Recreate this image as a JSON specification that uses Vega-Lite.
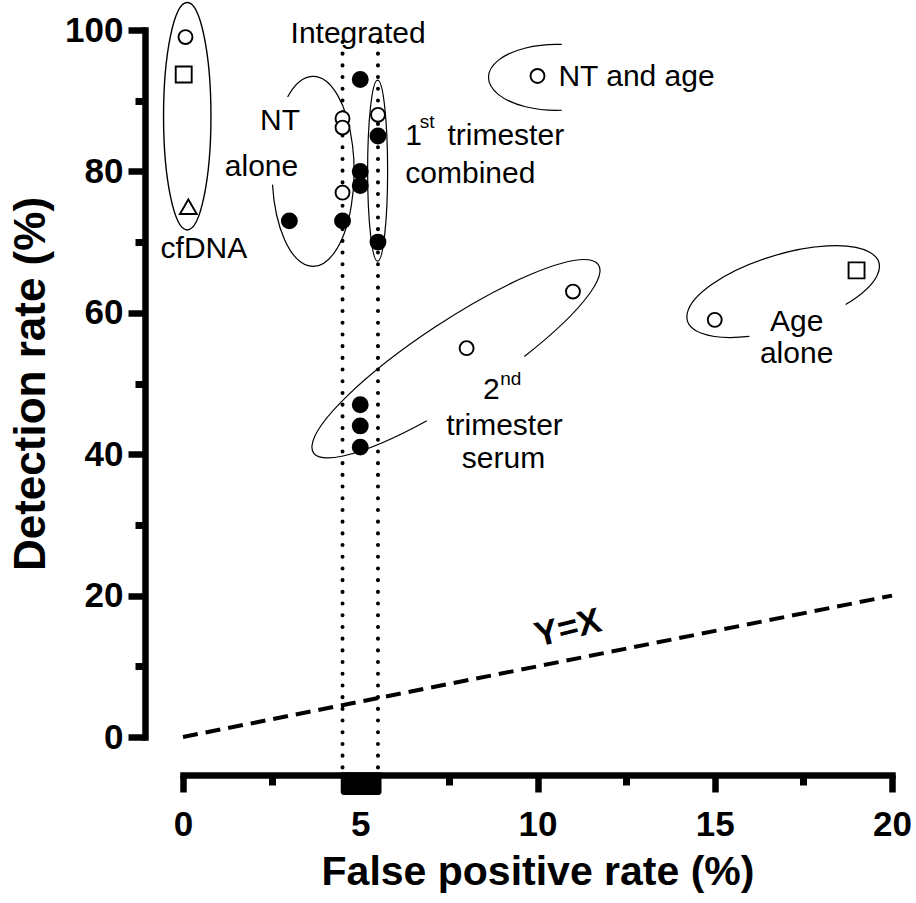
{
  "$schema": "https://vega.github.io/schema/vega-lite/v6.json",
  "width": 709,
  "height": 707,
  "autosize": {"type": "none"},
  "padding": {"left": 183, "top": 30, "right": 24, "bottom": 166},
  "background": "white",
  "config": {
    "view": {"stroke": null},
    "font": "Liberation Sans",
    "axis": {"grid": false, "domainColor": "black", "tickColor": "black", "labelColor": "black", "titleColor": "black"}
  },
  "datasets": {
    "points": [
      {"x": 0.07, "y": 99, "marker": "open circle"},
      {"x": 0.02, "y": 93.7, "marker": "open square"},
      {"x": 0.15, "y": 75, "marker": "open triangle"},
      {"x": 5.0, "y": 93, "marker": "filled circle"},
      {"x": 4.5, "y": 87.5, "marker": "open circle"},
      {"x": 4.5, "y": 86.2, "marker": "open circle"},
      {"x": 4.5, "y": 77, "marker": "open circle"},
      {"x": 4.5, "y": 73, "marker": "filled circle"},
      {"x": 3.0, "y": 73, "marker": "filled circle"},
      {"x": 5.0, "y": 80, "marker": "filled circle"},
      {"x": 5.0, "y": 78, "marker": "filled circle"},
      {"x": 5.5, "y": 88, "marker": "open circle"},
      {"x": 5.5, "y": 85, "marker": "filled circle"},
      {"x": 5.5, "y": 70, "marker": "filled circle"},
      {"x": 10, "y": 93.5, "marker": "open circle"},
      {"x": 5.0, "y": 47, "marker": "filled circle"},
      {"x": 5.0, "y": 44, "marker": "filled circle"},
      {"x": 5.0, "y": 41, "marker": "filled circle"},
      {"x": 8, "y": 55, "marker": "open circle"},
      {"x": 11, "y": 63, "marker": "open circle"},
      {"x": 15, "y": 59, "marker": "open circle"},
      {"x": 19, "y": 66, "marker": "open square"}
    ],
    "identity": [{"x": 0, "y": 0}, {"x": 20, "y": 20}],
    "bounds": [{"x": 4.5, "y": -4.3, "y2": 99.5}, {"x": 5.5, "y": -4.3, "y2": 99.5}],
    "band": [{"x": 4.45, "x2": 5.6, "y": -5.0, "y2": -8.2}],
    "labelsCenter": [
      {"x": 4.94, "y": 98.2, "text": "Integrated"},
      {"x": 0.59, "y": 67.7, "text": "cfDNA"},
      {"x": 9.07, "y": 42.7, "text": "trimester"},
      {"x": 9.04, "y": 38.0, "text": "serum"},
      {"x": 17.31, "y": 57.4, "text": "Age"},
      {"x": 17.31, "y": 52.9, "text": "alone"}
    ],
    "labelsLeft": [
      {"x": 6.27, "y": 83.8, "text": "1"},
      {"x": 7.46, "y": 83.8, "text": "trimester"},
      {"x": 6.27, "y": 78.4, "text": "combined"},
      {"x": 10.59, "y": 92.1, "text": "NT and age"},
      {"x": 8.46, "y": 47.8, "text": "2"}
    ],
    "labelsRight": [
      {"x": 3.3, "y": 85.9, "text": "NT"},
      {"x": 3.25, "y": 79.3, "text": "alone"}
    ],
    "labelsSup": [
      {"x": 6.68, "y": 86.2, "text": "st"},
      {"x": 8.95, "y": 49.8, "text": "nd"}
    ],
    "labelsLine": [{"x": 10.86, "y": 15.4, "text": "Y=X"}],
    "cfdnaGroup": [{"x": 0.12, "y": 87.8}],
    "ntAloneGroup": [{"x": 3.67, "y": 80.0}],
    "firstTriGroup": [{"x": 5.49, "y": 80.1}],
    "ntAgeGroup": [{"x": 10.86, "y": 93.3}],
    "secondTriGroup": [{"x": 7.70, "y": 53.5}],
    "ageGroup": [{"x": 16.93, "y": 63.0}]
  },
  "resolve": {"axis": {"x": "independent", "y": "independent"}},
  "layer": [
    {
      "data": {"name": "cfdnaGroup"},
      "mark": {"type": "point", "shape": "M0 -1.137 A0.237 1.137 0 1 1 0 1.137 A0.237 1.137 0 1 1 0 -1.137", "size": 40000, "filled": false, "stroke": "black", "strokeWidth": 1.4, "opacity": 1},
      "encoding": {
        "x": {"field": "x", "type": "quantitative", "scale": {"domain": [0, 20], "nice": false}, "axis": null},
        "y": {"field": "y", "type": "quantitative", "scale": {"domain": [0, 100], "nice": false}, "axis": null}
      }
    },
    {
      "data": {"name": "ntAloneGroup"},
      "mark": {"type": "point", "shape": "M-0.255 -0.744 A0.41 0.95 0 1 1 -0.406 0.132", "size": 40000, "filled": false, "stroke": "black", "strokeWidth": 1.2, "opacity": 1},
      "encoding": {
        "x": {"field": "x", "type": "quantitative", "scale": {"domain": [0, 20], "nice": false}, "axis": null},
        "y": {"field": "y", "type": "quantitative", "scale": {"domain": [0, 100], "nice": false}, "axis": null}
      }
    },
    {
      "data": {"name": "firstTriGroup"},
      "mark": {"type": "point", "shape": "M0 -0.905 A0.1 0.905 0 1 1 0 0.905 A0.1 0.905 0 1 1 0 -0.905", "size": 40000, "filled": false, "stroke": "black", "strokeWidth": 1.2, "opacity": 1},
      "encoding": {
        "x": {"field": "x", "type": "quantitative", "scale": {"domain": [0, 20], "nice": false}, "axis": null},
        "y": {"field": "y", "type": "quantitative", "scale": {"domain": [0, 100], "nice": false}, "axis": null}
      }
    },
    {
      "data": {"name": "ntAgeGroup"},
      "mark": {"type": "point", "shape": "M-0.062 -0.329 A0.68 0.33 0 1 0 -0.062 0.329", "size": 40000, "filled": false, "stroke": "black", "strokeWidth": 1.2, "opacity": 1},
      "encoding": {
        "x": {"field": "x", "type": "quantitative", "scale": {"domain": [0, 20], "nice": false}, "axis": null},
        "y": {"field": "y", "type": "quantitative", "scale": {"domain": [0, 100], "nice": false}, "axis": null}
      }
    },
    {
      "data": {"name": "secondTriGroup"},
      "mark": {"type": "point", "shape": "M-0.584 0.357 A1.707 0.38 0 1 1 0.584 0.357", "size": 40000, "angle": 326.6, "filled": false, "stroke": "black", "strokeWidth": 1.2, "opacity": 1},
      "encoding": {
        "x": {"field": "x", "type": "quantitative", "scale": {"domain": [0, 20], "nice": false}, "axis": null},
        "y": {"field": "y", "type": "quantitative", "scale": {"domain": [0, 100], "nice": false}, "axis": null}
      }
    },
    {
      "data": {"name": "ageGroup"},
      "mark": {"type": "point", "shape": "M-0.454 0.330 A1 0.37 0 1 1 0.559 0.307", "size": 40000, "angle": 343, "filled": false, "stroke": "black", "strokeWidth": 1.2, "opacity": 1},
      "encoding": {
        "x": {"field": "x", "type": "quantitative", "scale": {"domain": [0, 20], "nice": false}, "axis": null},
        "y": {"field": "y", "type": "quantitative", "scale": {"domain": [0, 100], "nice": false}, "axis": null}
      }
    },
    {
      "data": {"name": "bounds"},
      "mark": {"type": "rule", "color": "black", "strokeWidth": 4, "strokeDash": [0.1, 11.6], "strokeCap": "round"},
      "encoding": {
        "x": {"field": "x", "type": "quantitative", "scale": {"domain": [0, 20], "nice": false}, "axis": null},
        "y": {"field": "y", "type": "quantitative", "scale": {"domain": [0, 100], "nice": false}, "axis": null},
        "y2": {"field": "y2"}
      }
    },
    {
      "data": {"name": "identity"},
      "mark": {"type": "line", "color": "black", "strokeWidth": 4, "strokeDash": [15, 8], "strokeCap": "butt"},
      "encoding": {
        "x": {"field": "x", "type": "quantitative", "scale": {"domain": [0, 20], "nice": false},
              "axis": {"orient": "bottom", "values": [2.5, 7.5, 12.5, 17.5], "labels": false, "domain": false, "title": null, "offset": 38, "tickSize": 10, "tickWidth": 7, "tickCap": "butt"}},
        "y": {"field": "y", "type": "quantitative", "scale": {"domain": [0, 100], "nice": false},
              "axis": {"orient": "left", "values": [10, 30, 50, 70, 90], "labels": false, "domain": false, "title": null, "offset": 38, "tickSize": 10, "tickWidth": 7, "tickCap": "butt"}}
      }
    },
    {
      "data": {"name": "band"},
      "mark": {"type": "rect", "color": "black", "cornerRadiusBottomLeft": 3, "cornerRadiusBottomRight": 3},
      "encoding": {
        "x": {"field": "x", "type": "quantitative", "scale": {"domain": [0, 20], "nice": false}, "axis": null},
        "x2": {"field": "x2"},
        "y": {"field": "y", "type": "quantitative", "scale": {"domain": [0, 100], "nice": false}, "axis": null},
        "y2": {"field": "y2"}
      }
    },
    {
      "data": {"name": "points"},
      "mark": {"type": "point", "stroke": "black", "strokeWidth": 1.9, "opacity": 1, "filled": true},
      "encoding": {
        "x": {"field": "x", "type": "quantitative", "scale": {"domain": [0, 20], "nice": false},
              "axis": {"orient": "bottom", "values": [0, 5, 10, 15, 20], "format": "d", "title": "False positive rate (%)", "offset": 38,
                       "domainWidth": 6.5, "domainCap": "square", "tickSize": 17, "tickWidth": 6.5, "tickCap": "butt",
                       "labelFont": "Liberation Sans", "labelFontWeight": "bold", "labelFontSize": 35, "labelPadding": 15, "labelFlush": false, "labelOverlap": false,
                       "titleFont": "Liberation Sans", "titleFontWeight": "bold", "titleFontSize": 41, "titlePadding": 10}},
        "y": {"field": "y", "type": "quantitative", "scale": {"domain": [0, 100], "nice": false},
              "axis": {"orient": "left", "values": [0, 20, 40, 60, 80, 100], "format": "d", "title": "Detection rate (%)", "offset": 38,
                       "domainWidth": 6.5, "domainCap": "square", "tickSize": 17, "tickWidth": 6.5, "tickCap": "butt",
                       "labelFont": "Liberation Sans", "labelFontWeight": "bold", "labelFontSize": 35, "labelPadding": 5, "labelFlush": false, "labelOverlap": false,
                       "titleFont": "Liberation Sans", "titleFontWeight": "bold", "titleFontSize": 44, "titlePadding": 11}},
        "shape": {"field": "marker", "type": "nominal", "legend": null,
                  "scale": {"domain": ["open circle", "filled circle", "open square", "open triangle"], "range": ["circle", "circle", "square", "triangle-up"]}},
        "fill": {"field": "marker", "type": "nominal", "legend": null,
                 "scale": {"domain": ["open circle", "filled circle", "open square", "open triangle"], "range": ["white", "black", "white", "white"]}},
        "size": {"field": "marker", "type": "nominal", "legend": null,
                 "scale": {"domain": ["open circle", "filled circle", "open square", "open triangle"], "range": [195, 285, 200, 280]}}
      }
    },
    {
      "data": {"name": "labelsCenter"},
      "mark": {"type": "text", "align": "center", "baseline": "alphabetic", "fontSize": 30, "font": "Liberation Sans", "color": "black"},
      "encoding": {
        "x": {"field": "x", "type": "quantitative", "scale": {"domain": [0, 20], "nice": false}, "axis": null},
        "y": {"field": "y", "type": "quantitative", "scale": {"domain": [0, 100], "nice": false}, "axis": null},
        "text": {"field": "text"}
      }
    },
    {
      "data": {"name": "labelsLeft"},
      "mark": {"type": "text", "align": "left", "baseline": "alphabetic", "fontSize": 30, "font": "Liberation Sans", "color": "black"},
      "encoding": {
        "x": {"field": "x", "type": "quantitative", "scale": {"domain": [0, 20], "nice": false}, "axis": null},
        "y": {"field": "y", "type": "quantitative", "scale": {"domain": [0, 100], "nice": false}, "axis": null},
        "text": {"field": "text"}
      }
    },
    {
      "data": {"name": "labelsRight"},
      "mark": {"type": "text", "align": "right", "baseline": "alphabetic", "fontSize": 30, "font": "Liberation Sans", "color": "black"},
      "encoding": {
        "x": {"field": "x", "type": "quantitative", "scale": {"domain": [0, 20], "nice": false}, "axis": null},
        "y": {"field": "y", "type": "quantitative", "scale": {"domain": [0, 100], "nice": false}, "axis": null},
        "text": {"field": "text"}
      }
    },
    {
      "data": {"name": "labelsSup"},
      "mark": {"type": "text", "align": "left", "baseline": "alphabetic", "fontSize": 19, "font": "Liberation Sans", "color": "black"},
      "encoding": {
        "x": {"field": "x", "type": "quantitative", "scale": {"domain": [0, 20], "nice": false}, "axis": null},
        "y": {"field": "y", "type": "quantitative", "scale": {"domain": [0, 100], "nice": false}, "axis": null},
        "text": {"field": "text"}
      }
    },
    {
      "data": {"name": "labelsLine"},
      "mark": {"type": "text", "align": "center", "baseline": "middle", "fontSize": 35, "fontWeight": "bold", "angle": 346, "font": "Liberation Sans", "color": "black"},
      "encoding": {
        "x": {"field": "x", "type": "quantitative", "scale": {"domain": [0, 20], "nice": false}, "axis": null},
        "y": {"field": "y", "type": "quantitative", "scale": {"domain": [0, 100], "nice": false}, "axis": null},
        "text": {"field": "text"}
      }
    }
  ]
}
